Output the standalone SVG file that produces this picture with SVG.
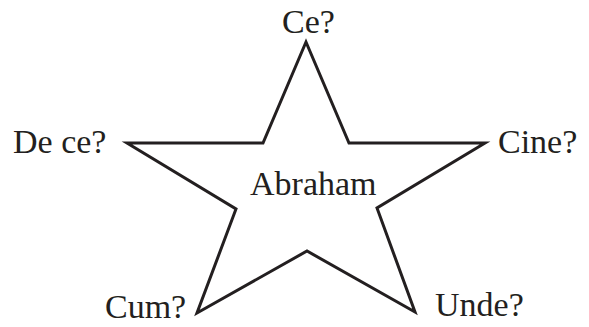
<svg xmlns="http://www.w3.org/2000/svg" width="589" height="327" viewBox="0 0 589 327">
<style>
.lbl{font-family:"Liberation Serif","Times New Roman",serif;font-size:34px;fill:#231f20}
.star{fill:#ffffff;stroke:#231f20;stroke-width:3;stroke-linejoin:miter}
</style>
<rect width="589" height="327" fill="#ffffff"/>
<g id="star">
<polygon class="star" points="306,42 349,143 485,143 377,208 415,312 307,251 197,313 236,209 127,143 263,143"/>
</g>
<g id="center"><text class="lbl" x="250" y="195">Abraham</text></g>
<g id="ce"><text class="lbl" x="282" y="33">Ce?</text></g>
<g id="cine"><text class="lbl" x="498" y="153">Cine?</text></g>
<g id="unde"><text class="lbl" x="435" y="316" font-size="35">Unde?</text></g>
<g id="cum"><text class="lbl" x="105" y="318">Cum?</text></g>
<g id="dece"><text class="lbl" x="13" y="153">De ce?</text></g>
</svg>
